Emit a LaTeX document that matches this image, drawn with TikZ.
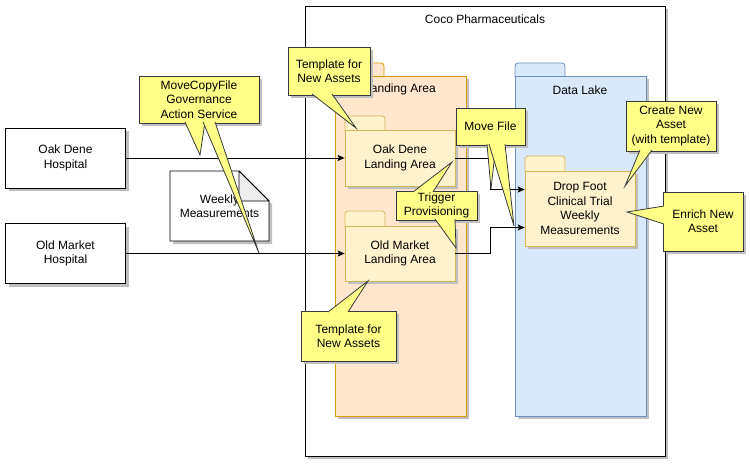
\documentclass[tikz,border=0pt]{standalone}
\usepackage{fontspec}
\setmainfont{Liberation Sans}
\usetikzlibrary{shadows,arrows.meta,calc}
\definecolor{callY}{HTML}{FFFF88}
\definecolor{callS}{HTML}{36393D}
\definecolor{laF}{HTML}{FFE6CC}
\definecolor{laS}{HTML}{D79B00}
\definecolor{dlF}{HTML}{DAE8FC}
\definecolor{dlS}{HTML}{6C8EBF}
\definecolor{sfF}{HTML}{FFF2CC}
\definecolor{sfS}{HTML}{D6B656}
\definecolor{foldF}{HTML}{EEEEEE}
\newcommand\callptr[3]{%
  \fill[callY] #1 -- #3 -- #2 -- cycle;
  \draw[callS, line width=0.8pt, line join=miter] #1 -- #3 -- #2;
}
\begin{document}
\begin{tikzpicture}[x=1pt,y=-1pt,
  font=\fontsize{12}{14.4}\selectfont,
  shd/.style={drop shadow={shadow xshift=3pt,shadow yshift=-3pt,fill=black!25,opacity=1}},
  plainbox/.style={draw=black, fill=white, shd, line width=0.8pt, align=center, inner sep=0pt},
  fbody/.style={shd, line width=0.8pt, inner sep=0pt, align=center},
  lab/.style={inner sep=0pt, align=center},
  callbox/.style={draw=callS, fill=callY, shd, line width=0.8pt, align=center, inner sep=0pt},
  conn/.style={draw=black, line width=0.9pt, -{Stealth[length=7pt,width=6pt,inset=1.5pt]}},
]
\useasboundingbox (0,0) rectangle (750,464);

% outer container
\node[plainbox, minimum width=360pt, minimum height=450pt] (coco) at (485,231) {};
\node[lab] (cocot) at (485,19) {Coco Pharmaceuticals};

% Landing Area folder
\filldraw[fill=laF, draw=laS, line width=0.8pt] (335,77) [rounded corners=3pt] -- (335,63) -- (384,63) [sharp corners] -- (384,77) -- cycle;
\node[fbody, fill=laF, draw=laS, minimum width=131pt, minimum height=340pt] (la) at (400.5,246) {};
\node[lab] (lat) at (400,89) {Landing Area};

% Data Lake folder
\filldraw[fill=dlF, draw=dlS, line width=0.8pt] (515,77) [rounded corners=3pt] -- (515,63) -- (565,63) [sharp corners] -- (565,77) -- cycle;
\node[fbody, fill=dlF, draw=dlS, minimum width=131pt, minimum height=340pt] (dl) at (580.5,246) {};
\node[lab] (dlt) at (580,90) {Data Lake};

% Oak Dene Landing Area
\filldraw[fill=sfF, draw=sfS, line width=0.8pt] (345,131) [rounded corners=3pt] -- (345,116) -- (385,116) [sharp corners] -- (385,131) -- cycle;
\node[fbody, fill=sfF, draw=sfS, minimum width=110pt, minimum height=56pt] (odla) at (400,158) {Oak Dene\\Landing Area};

% Old Market Landing Area
\filldraw[fill=sfF, draw=sfS, line width=0.8pt] (345,227) [rounded corners=3pt] -- (345,211) -- (385,211) [sharp corners] -- (385,227) -- cycle;
\node[fbody, fill=sfF, draw=sfS, minimum width=110pt, minimum height=55pt] (omla) at (400,253.5) {Old Market\\Landing Area};

% Drop Foot folder
\filldraw[fill=sfF, draw=sfS, line width=0.8pt] (525,172) [rounded corners=3pt] -- (525,156) -- (565,156) [sharp corners] -- (565,172) -- cycle;
\node[fbody, fill=sfF, draw=sfS, minimum width=110pt, minimum height=75pt] (df) at (580,208.5) {Drop Foot\\Clinical Trial\\Weekly\\Measurements};

% hospitals
\node[plainbox, minimum width=120pt, minimum height=60pt] (odh) at (65.5,158) {Oak Dene\\Hospital};
\node[plainbox, minimum width=120pt, minimum height=60pt] (omh) at (65.5,253.5) {Old Market\\Hospital};

% weekly measurements note
\filldraw[fill=white, draw=black, line width=0.8pt, shd] (170,171) -- (239,171) -- (269,201) -- (269,241) -- (170,241) -- cycle;
\filldraw[fill=foldF, draw=black, line width=0.8pt, line join=round] (239,171) -- (239,201) -- (269,201) -- cycle;
\node[lab] (note) at (219.5,206) {Weekly\\Measurements};

% connectors
\draw[conn] (odh.east) -- (odla.west);
\draw[conn] (omh.east) -- (omla.west);
\draw[conn] (odla.east) -- ++(35pt,0pt) |- ([yshift=19pt]df.west);
\draw[conn] (omla.east) -- ++(35pt,0pt) |- ([yshift=-19pt]df.west);

% callouts
\node[callbox, minimum width=82pt, minimum height=48pt] (c1) at (329,71) {Template for\\New Assets};
\callptr{(312,94)}{(332,94)}{(356,128)}

\node[callbox, minimum width=120pt, minimum height=47pt] (c2) at (199,99.5) {MoveCopyFile\\Governance\\Action Service};
\callptr{(185,122)}{(205,122)}{(200,155)}
\callptr{(203,122)}{(215,122)}{(259,253)}

\node[callbox, minimum width=69pt, minimum height=37pt] (c3) at (490.5,126.5) {Move File};
\callptr{(487,144)}{(496,144)}{(491,189)}
\callptr{(489,144)}{(505,144)}{(514,226)}

\node[callbox, minimum width=81pt, minimum height=29pt] (c4) at (436.5,205.5) {Trigger\\Provisioning};
\callptr{(413,192)}{(433,192)}{(452,162)}
\callptr{(435,219)}{(455,219)}{(456,248)}

\node[callbox, minimum width=95pt, minimum height=50pt] (c5) at (348.5,336) {Template for\\New Assets};
\callptr{(328,312)}{(348,312)}{(368,281)}

\node[callbox, minimum width=90pt, minimum height=50pt] (c6) at (671,126) {Create New\\Asset\\(with template)};
\callptr{(640,150)}{(652,150)}{(625,186)}

\node[callbox, minimum width=80pt, minimum height=59pt] (c7) at (703,221.5) {Enrich New\\Asset};
\callptr{(664,206)}{(664,224)}{(627,212)}
\end{tikzpicture}
\end{document}
